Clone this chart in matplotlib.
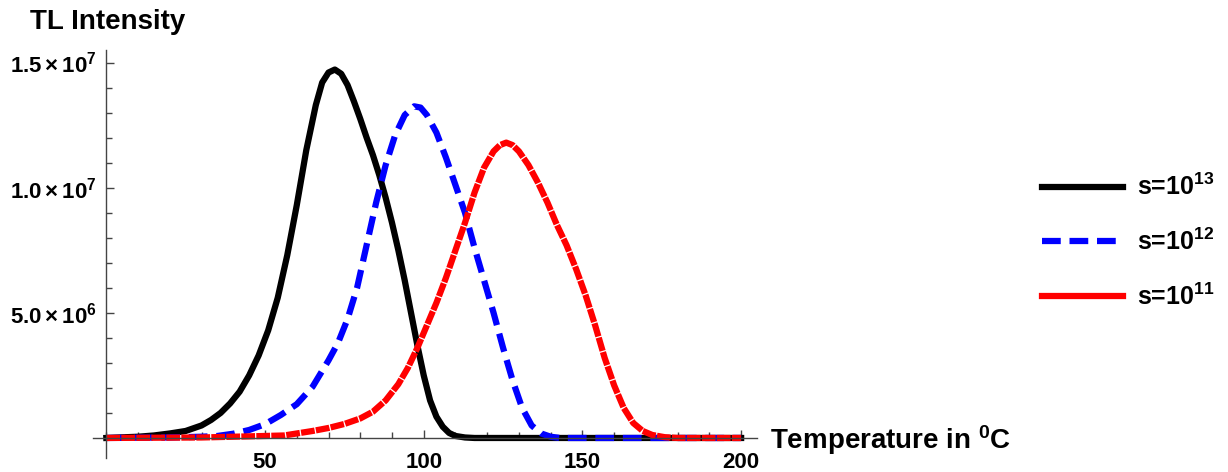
import numpy as np
import matplotlib
matplotlib.use("Agg")
import matplotlib.pyplot as plt
from matplotlib.lines import Line2D
from matplotlib.ticker import MultipleLocator, FixedLocator, FuncFormatter

plt.rcParams['font.family'] = ['Liberation Sans', 'DejaVu Sans']
plt.rcParams['font.weight'] = 'bold'
plt.rcParams['mathtext.fontset'] = 'custom'
plt.rcParams['mathtext.rm'] = 'Liberation Sans:bold'
plt.rcParams['mathtext.it'] = 'Liberation Sans:bold'
plt.rcParams['mathtext.bf'] = 'Liberation Sans:bold'
plt.rcParams['mathtext.default'] = 'rm'

## curves, intensity in units of 1e6

# s = 10^13
t_13 = [0, 10, 15, 20, 25, 30, 33, 36, 39, 42, 45, 48, 51, 54, 57, 60, 63, 66,
        68, 70, 72, 74, 76, 78, 80, 82, 84, 86, 88, 90, 92, 94, 96, 98, 100,
        102, 104, 106, 108, 110, 113, 116, 200]
i_13 = [0.0, 0.05, 0.1, 0.18, 0.28, 0.5, 0.72, 1.0, 1.38, 1.85, 2.5, 3.3, 4.3,
        5.6, 7.3, 9.3, 11.5, 13.3, 14.2, 14.6, 14.72, 14.55, 14.1, 13.45,
        12.75, 12.0, 11.3, 10.5, 9.6, 8.6, 7.5, 6.3, 5.0, 3.7, 2.5, 1.5, 0.85,
        0.45, 0.2, 0.08, 0.02, 0.0, 0.0]

# s = 10^12
t_12 = [0, 20, 30, 35, 40, 45, 50, 55, 60, 65, 70, 73, 76, 79, 82, 85, 88, 91,
        94, 97, 99, 101, 104, 107, 110, 113, 116, 119, 122, 125, 128, 131,
        134, 137, 140, 143, 200]
i_12 = [0.0, 0.02, 0.05, 0.08, 0.17, 0.32, 0.55, 0.92, 1.35, 2.05, 3.1, 3.8,
        4.75, 6.0, 7.7, 9.4, 10.9, 12.1, 12.9, 13.25, 13.2, 12.9, 12.2, 11.2,
        10.1, 9.0, 7.6, 6.3, 5.0, 3.6, 2.3, 1.2, 0.5, 0.18, 0.05, 0.0, 0.0]

# s = 10^11
t_11 = [0, 30, 40, 50, 56, 60, 65, 70, 75, 80, 84, 88, 92, 95, 98, 101, 104,
        107, 110, 113, 116, 119, 122, 124, 126, 128, 130, 133, 136, 139, 142,
        145, 148, 151, 154, 157, 160, 163, 166, 169, 172, 176, 180, 200]
i_11 = [0.0, 0.02, 0.05, 0.08, 0.1, 0.18, 0.28, 0.4, 0.56, 0.78, 1.05, 1.5,
        2.15, 2.8, 3.6, 4.5, 5.4, 6.4, 7.5, 8.6, 9.8, 10.8, 11.45, 11.7, 11.8,
        11.7, 11.45, 10.9, 10.2, 9.4, 8.5, 7.7, 6.75, 5.7, 4.5, 3.2, 2.1, 1.2,
        0.6, 0.28, 0.12, 0.03, 0.0, 0.0]

labels = ['s=10$^{13}$', 's=10$^{12}$', 's=10$^{11}$']
colors = ['black', '#0000ff', '#ff0000']

fig = plt.figure(figsize=(12.28, 4.72), dpi=100)
ax = fig.add_axes([93/1228, 14/472, 664/1228, 408/472])

lw = 4.5
blue_dash = (0, (3.0, 1.4))
ax.plot(t_13, np.array(i_13)*1e6, color=colors[0], lw=lw, solid_joinstyle='round')
ax.plot(t_12, np.array(i_12)*1e6, color=colors[1], lw=lw, ls=blue_dash)
ax.plot(t_11, np.array(i_11)*1e6, color=colors[2], lw=lw, ls=(0, (2.2, 0.2)))

ax.set_xlim(-4.2, 205)
ax.set_ylim(-0.8e6, 15.5e6)

for side in ['top', 'right']:
    ax.spines[side].set_visible(False)
ax.spines['left'].set_position(('data', 0))
ax.spines['bottom'].set_position(('data', 0))
for side in ['left', 'bottom']:
    ax.spines[side].set_color('#444444')
    ax.spines[side].set_linewidth(1.0)

ax.xaxis.set_major_locator(FixedLocator([50, 100, 150, 200]))
ax.xaxis.set_minor_locator(MultipleLocator(10))
ax.yaxis.set_major_locator(FixedLocator([5e6, 1e7, 1.5e7]))
ax.yaxis.set_minor_locator(MultipleLocator(1e6))


def sci(v, pos):
    e = int(np.floor(np.log10(v)))
    return r'$%.1f\times10^{%d}$' % (v / 10**e, e)


ax.yaxis.set_major_formatter(FuncFormatter(sci))
ax.tick_params(which='both', direction='in', color='#444444', width=1.0,
               labelsize=16)
ax.tick_params(which='major', length=5.5)
ax.tick_params(which='minor', length=4)
ax.tick_params(axis='x', pad=10)
ax.tick_params(axis='y', pad=7)

fig.text(30/1228, 1 - 22/472, 'TL Intensity', fontsize=20, va='center', ha='left')
fig.text(770/1228, 1 - 440/472, 'Temperature in $^{0}$C', fontsize=20,
         va='center', ha='left')

handles = [Line2D([], [], color=colors[0], lw=lw),
           Line2D([], [], color=colors[1], lw=lw, ls=blue_dash),
           Line2D([], [], color=colors[2], lw=lw)]
fig.legend(handles, labels, loc='upper left', bbox_to_anchor=(1042/1228, 1 - 174/472),
           frameon=False, fontsize=18, handlelength=3.25, handletextpad=0.56,
           labelspacing=1.13, borderpad=0, borderaxespad=0)

fig.savefig('out.png', dpi=100)
